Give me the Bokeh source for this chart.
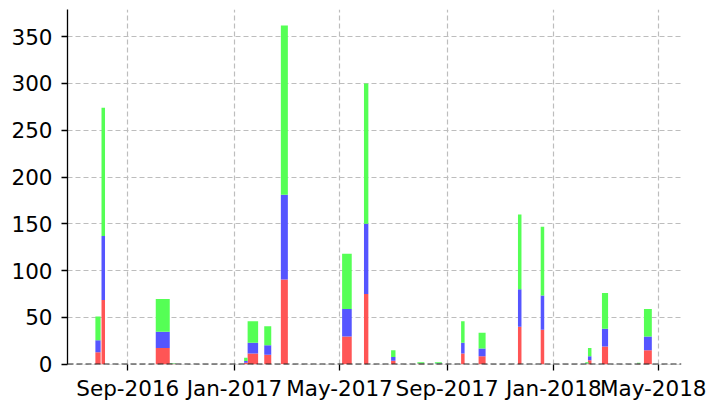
import datetime as dt
from bokeh.plotting import figure
from bokeh.models import ColumnDataSource, Range1d, Span, FixedTicker
from bokeh.embed import file_html
from bokeh.resources import INLINE

# Data: start dates of each bar, bar duration (days), and the three stacked series
starts = ["2016-07-26", "2016-08-02", "2016-10-03", "2016-10-19", "2017-01-12", "2017-01-16",
          "2017-02-04", "2017-02-23", "2017-05-04", "2017-05-29", "2017-06-29", "2017-07-29",
          "2017-08-18", "2017-09-17", "2017-10-07", "2017-11-21", "2017-12-17", "2018-02-06",
          "2018-02-09", "2018-02-25", "2018-04-06", "2018-04-14"]
durations = [6, 4, 16, 7, 4, 12, 8, 8, 11, 5, 5, 8, 8, 4, 8, 4, 4, 4, 4, 7, 4, 9]
red =   [12.8, 68.5, 17.4, 0.4, 1.7, 11.5, 10.1, 90.5, 29.5, 75.0, 3.8, 0.6, 0.3, 11.5, 8.4, 40.0, 36.7, 0.3, 4.3, 19.0, 0.4, 14.8]
blue =  [12.8, 68.5, 17.4, 0.4, 1.7, 11.5, 10.1, 90.5, 29.5, 75.0, 3.8, 0.3, 0.6, 11.5, 8.4, 40.0, 36.7, 0.5, 4.3, 19.0, 0.3, 14.8]
green = [25.5, 137.0, 34.8, 0.4, 3.4, 23.0, 20.3, 181.0, 59.0, 150.0, 7.4, 1.1, 1.1, 23.0, 16.7, 80.0, 73.4, 1.2, 8.6, 38.0, 0.8, 29.4]
x_tick_dates = ["2016-09-01", "2017-01-01", "2017-05-01", "2017-09-01", "2018-01-01", "2018-05-01"]
y_ticks = [0, 50, 100, 150, 200, 250, 300, 350]

left = [dt.datetime.fromisoformat(s) for s in starts]
right = [l + dt.timedelta(days=d) for l, d in zip(left, durations)]
b0 = [0.0] * len(red)
t_red = red
t_blue = [r + b for r, b in zip(red, blue)]
t_green = [tb + g for tb, g in zip(t_blue, green)]

src = ColumnDataSource(dict(left=left, right=right, b0=b0, t_red=t_red, t_blue=t_blue, t_green=t_green))

p = figure(width=706, height=403, x_axis_type="datetime", output_backend="svg", toolbar_location=None,
           x_range=Range1d(dt.datetime(2016, 6, 24, 3), dt.datetime(2018, 5, 26, 22)),
           y_range=Range1d(-0.3, 379))
p.min_border_left = 67
p.min_border_right = 25
p.min_border_top = 9
p.min_border_bottom = 39
p.outline_line_color = None
p.background_fill_color = "white"
p.border_fill_color = "white"

p.quad(left="left", right="right", bottom="b0", top="t_red", source=src, fill_color="#FF5555", line_color=None)
p.quad(left="left", right="right", bottom="t_red", top="t_blue", source=src, fill_color="#5555FF", line_color=None)
p.quad(left="left", right="right", bottom="t_blue", top="t_green", source=src, fill_color="#55FF55", line_color=None)

p.add_layout(Span(location=0, dimension="width", line_color="#222222", line_dash="6 3", line_width=1.6))

tick_ms = [dt.datetime.fromisoformat(s).replace(tzinfo=dt.timezone.utc).timestamp() * 1000 for s in x_tick_dates]
p.xaxis.ticker = FixedTicker(ticks=tick_ms)
p.xaxis.major_label_overrides = {t: dt.datetime.fromisoformat(s).strftime("%b-%Y") for t, s in zip(tick_ms, x_tick_dates)}
p.yaxis.ticker = FixedTicker(ticks=y_ticks)

for ax in (p.xaxis[0], p.yaxis[0]):
    ax.major_label_text_font = "DejaVu Sans"
    ax.major_label_text_font_size = "21.5px"
    ax.major_label_text_color = "black"
    ax.major_tick_out = 6
    ax.major_tick_in = 0
    ax.minor_tick_out = 0
    ax.minor_tick_in = 0
    ax.major_tick_line_color = "black"
    ax.major_tick_line_width = 1.3
p.xaxis.axis_line_color = None
p.yaxis.axis_line_color = "black"
p.yaxis.axis_line_width = 1.3
p.xaxis.major_label_standoff = 5
p.yaxis.major_label_standoff = 9

for g in (p.xgrid[0], p.ygrid[0]):
    g.grid_line_color = "#bdbdbd"
    g.grid_line_dash = "5 3"
    g.grid_line_width = 1.2
p.xgrid.ticker = p.xaxis.ticker
p.ygrid.ticker = p.yaxis.ticker

open("out.html", "w").write(file_html(p, INLINE))
